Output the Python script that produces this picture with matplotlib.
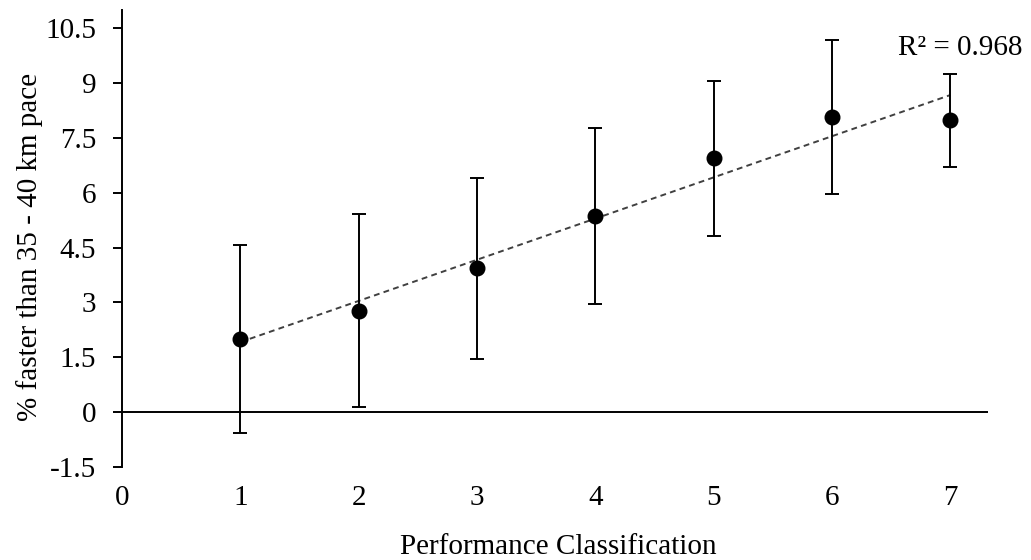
import numpy as np
import matplotlib
matplotlib.use("Agg")
import matplotlib.pyplot as plt

plt.rcParams['font.family'] = ['Liberation Serif', 'DejaVu Serif']

# Data
classes = [1, 2, 3, 4, 5, 6, 7]
means = [2.00, 2.78, 3.93, 5.36, 6.94, 8.07, 7.98]
errors = [2.58, 2.63, 2.48, 2.40, 2.12, 2.10, 1.27]
y_ticks = [-1.5, 0, 1.5, 3, 4.5, 6, 7.5, 9, 10.5]
y_tick_labels = ["-1.5", "0", "1.5", "3", "4.5", "6", "7.5", "9", "10.5"]
x_ticks = [0, 1, 2, 3, 4, 5, 6, 7]
r2_label = "R² = 0.968"

FS = 21

fig = plt.figure(figsize=(10.31, 5.6), dpi=100)
ax = fig.add_axes([122/1031, 1 - 467/560, (988-122)/1031, (467-10)/560])

# linear trendline fitted to the means
slope, intercept = np.polyfit(classes, means, 1)
xt = np.array([classes[0], classes[-1]])
ax.plot(xt, slope * xt + intercept, linestyle=(0, (3, 2.2)), color='#404040', lw=1.4, zorder=2)

ax.errorbar(classes, means, yerr=errors, fmt='o', color='black', ms=10.5,
            ecolor='black', elinewidth=1.4, capsize=4.8, capthick=1.4, zorder=3)

ax.axhline(0, color='black', lw=1.4, zorder=1)

ax.set_xlim(0, 7.32)
ax.set_ylim(-1.5, 11)
ax.set_yticks(y_ticks)
ax.set_yticklabels(y_tick_labels)
ax.set_xticks(x_ticks)
ax.set_xticklabels([str(v) for v in x_ticks])

for s in ['top', 'right', 'bottom']:
    ax.spines[s].set_visible(False)
ax.spines['left'].set_bounds(-1.5, 11)
ax.spines['left'].set_linewidth(1.4)

ax.tick_params(axis='y', direction='out', length=6.5, width=1.4, labelsize=FS, pad=12)
ax.tick_params(axis='x', length=0, labelsize=FS, pad=13)

ax.set_ylabel("% faster than 35 - 40 km pace", fontsize=FS)
ax.yaxis.set_label_coords(-0.091, (467 - 247) / 457)
ax.set_xlabel("Performance Classification", fontsize=FS)
ax.xaxis.set_label_coords((558 - 122) / 866, (467 - 534) / 457)

ax.text(6.56, 9.97, r2_label, fontsize=FS, ha='left', va='center')

fig.savefig("out.png", dpi=100)
